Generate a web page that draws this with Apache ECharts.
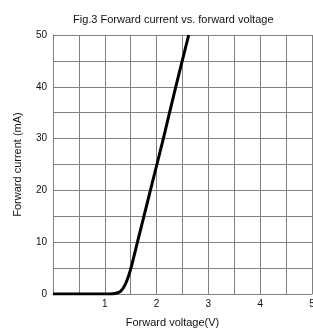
<!DOCTYPE html>
<html lang="en">
<head>
    <meta charset="UTF-8">
    <title>Fig.3</title>
    <style>
        html, body { margin: 0; padding: 0; background: #fff; }
        #main { width: 313px; height: 336px; }
    </style>
    <script src="https://cdn.jsdelivr.net/npm/echarts@6/dist/echarts.min.js"></script>
</head>
<body>

<div id="main"></div>

<script>

    // forward voltage (V) and forward current (mA)
    var voltage = [0, 1.1, 1.2, 1.3, 1.36, 1.42, 1.5, 1.63, 1.88, 2.13, 2.37, 2.62];
    var current = [0, 0, 0.1, 0.5, 1.2, 2.4, 4.8, 10, 20, 30, 40, 50];

    var xTicks = [1, 2, 3, 4, 5];
    var yTicks = [0, 10, 20, 30, 40, 50];

    var chartDom = document.getElementById('main');
    var myChart = echarts.init(chartDom);
    var option;

    var points = [];
    for (var i = 0; i < voltage.length; i++) {
        points.push([voltage[i], current[i]]);
    }

    var font = 'Liberation Sans, Arial, sans-serif';
    var gridLine = { show: true, lineStyle: { color: '#808080', width: 1 } };

    option = {
        animation: false,
        title: {
            text: 'Fig.3 Forward current vs. forward voltage',
            left: 68,
            top: 9,
            textStyle: { fontSize: 11, fontWeight: 'normal', color: '#111', fontFamily: font }
        },
        grid: { left: 53, right: 1, top: 35, bottom: 42, outerBoundsMode: 'none' },
        xAxis: {
            type: 'value',
            min: 0,
            max: 5,
            interval: 0.5,
            name: 'Forward voltage(V)',
            nameLocation: 'middle',
            nameGap: 23,
            nameTextStyle: { fontSize: 11, color: '#111', fontFamily: font, padding: [0, 20, 0, 0] },
            axisLine: { lineStyle: { color: '#808080' } },
            axisTick: { show: false },
            splitLine: gridLine,
            axisLabel: {
                color: '#111', fontSize: 10, fontFamily: font, margin: 5,
                showMaxLabel: true,
                formatter: function (v) { return xTicks.indexOf(v) >= 0 ? String(v) : ''; }
            }
        },
        yAxis: {
            type: 'value',
            min: 0,
            max: 50,
            interval: 5,
            name: 'Forward current (mA)',
            nameLocation: 'middle',
            nameGap: 30,
            nameTextStyle: { fontSize: 11, color: '#111', fontFamily: font },
            axisLine: { show: true, lineStyle: { color: '#808080' } },
            axisTick: { show: false },
            splitLine: gridLine,
            axisLabel: {
                color: '#111', fontSize: 10, fontFamily: font, margin: 6,
                formatter: function (v) { return yTicks.indexOf(v) >= 0 ? String(v) : ''; }
            }
        },
        series: [{
            type: 'line',
            data: points,
            smooth: 0.3,
            showSymbol: false,
            lineStyle: { color: '#000', width: 3 }
        }]
    };

    option && myChart.setOption(option);

</script>

</body>
</html>
